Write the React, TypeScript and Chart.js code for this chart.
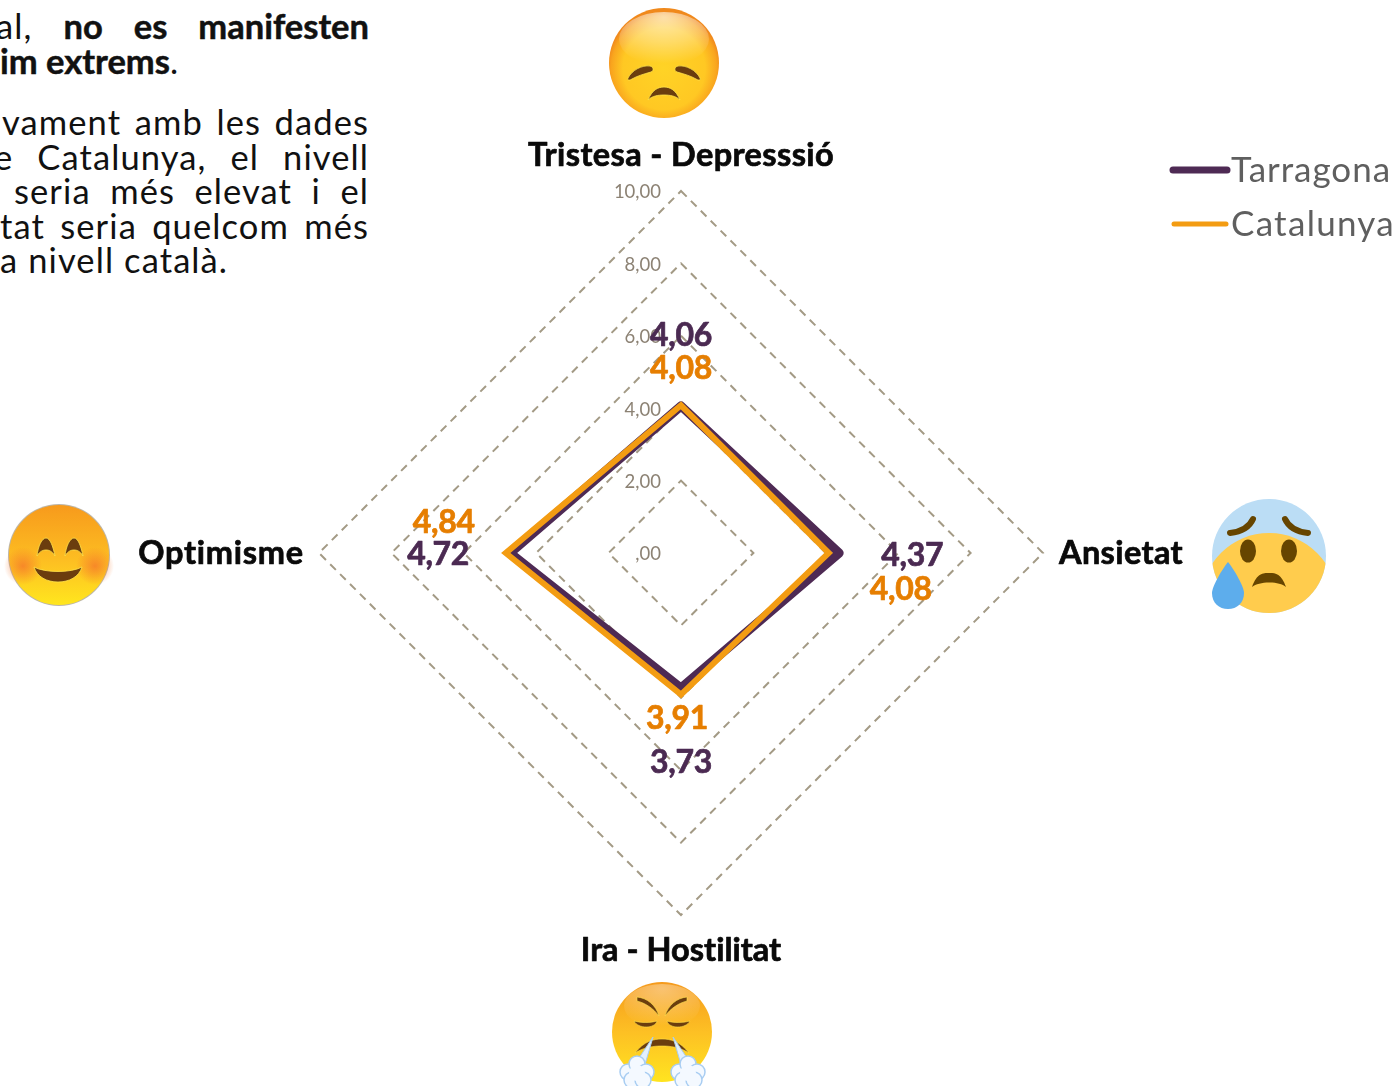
import React, { useEffect, useRef } from "react";
import { Chart, registerables } from "chart.js";

Chart.register(...registerables);

const categories = ["Tristesa - Depresssió", "Ansietat", "Ira - Hostilitat", "Optimisme"];
const tarragona = [4.06, 4.37, 3.73, 4.72];
const catalunya = [4.08, 4.08, 3.91, 4.84];
const seriesNames = ["Tarragona", "Catalunya"];

const PURPLE = "#4E2A54";
const ORANGE = "#F39C12";
const FONT = "Lato, sans-serif";

// style tables: where each label sits relative to its anchor on the scale
const categoryOffsets = [[0, -35, 306], [78, 1, 124], [0, 36, 201], [-98, 1, 166]];
const tarragonaLabelOffsets = [[0, -70], [73, 3], [0, 75], [-72, 2]];
const catalunyaLabelOffsets = [[0, -37], [72, 37], [-4, 24], [-62, -30]];

const paragraphLines: { y: number; parts: [string, boolean][]; justify: boolean; left: number }[] = [
  { y: 26, parts: [["al,", false], [" no es manifesten", true]], justify: true, left: -4 },
  { y: 61, parts: [["im extrems", true], [".", false]], justify: false, left: 0 },
  { y: 122, parts: [["vament amb les dades", false]], justify: true, left: 2 },
  { y: 157, parts: [["e Catalunya, el nivell", false]], justify: true, left: -6 },
  { y: 191, parts: [["seria més elevat i el", false]], justify: true, left: 14 },
  { y: 226, parts: [["tat seria quelcom més", false]], justify: true, left: 0 },
  { y: 260, parts: [["a nivell català.", false]], justify: false, left: 0 },
];

function fitText(ctx: CanvasRenderingContext2D, text: string, x: number, y: number, width: number, heavy = 0) {
  (ctx as any).letterSpacing = "0px";
  const w = ctx.measureText(text).width;
  (ctx as any).letterSpacing = `${(width - w) / text.length}px`;
  ctx.fillText(text, x, y);
  if (heavy > 0) {
    ctx.lineWidth = heavy;
    ctx.lineJoin = "round";
    ctx.strokeStyle = ctx.fillStyle as string;
    ctx.strokeText(text, x, y);
  }
  (ctx as any).letterSpacing = "0px";
}

const fmt = (v: number) => (v === 0 ? ",00" : v.toFixed(2).replace(".", ","));

const radarExtras = {
  id: "radarExtras",
  beforeDatasetsDraw(chart: any) {
    const { ctx, scales } = chart;
    const r = scales.r;
    ctx.save();
    ctx.font = `18.5px ${FONT}`;
    ctx.fillStyle = "#8C8274";
    ctx.textAlign = "right";
    ctx.textBaseline = "middle";
    r.ticks.forEach((t: any) => {
      const y = r.yCenter - r.getDistanceFromCenterForValue(t.value) + 1.5;
      ctx.fillText(fmt(t.value), r.xCenter - 20, y);
    });
    ctx.restore();
  },
  afterDraw(chart: any) {
    const { ctx, scales, data } = chart;
    const r = scales.r;
    ctx.save();
    ctx.textBaseline = "middle";
    ctx.textAlign = "center";
    // category labels
    ctx.font = `bold 32.5px ${FONT}`;
    ctx.fillStyle = "#0A0A0A";
    data.labels.forEach((lab: string, i: number) => {
      const p = r.getPointPositionForValue(i, r.max);
      const [dx, dy, w] = categoryOffsets[i];
      fitText(ctx, lab, p.x + dx, p.y + dy, w, 0.7);
    });
    // value labels
    ctx.font = `bold 32px ${FONT}`;
    const draw = (vals: number[], offs: number[][], col: string) => {
      ctx.fillStyle = col;
      vals.forEach((v, i) => {
        const p = r.getPointPositionForValue(i, v);
        fitText(ctx, fmt(v), p.x + offs[i][0], p.y + offs[i][1], 62, 0.7);
      });
    };
    draw(data.datasets[0].data, tarragonaLabelOffsets, "#4B2A52");
    draw(data.datasets[1].data, catalunyaLabelOffsets, "#E67E00");
    // legend
    const rows = [
      { y: 170, x0: 1173, x1: 1227, lw: 7, col: PURPLE, tw: 160 },
      { y: 224, x0: 1174, x1: 1226, lw: 5, col: ORANGE, tw: 164 },
    ];
    ctx.textAlign = "left";
    ctx.font = `35px ${FONT}`;
    rows.forEach((row, i) => {
      ctx.strokeStyle = row.col;
      ctx.lineWidth = row.lw;
      ctx.lineCap = "round";
      ctx.beginPath();
      ctx.moveTo(row.x0, row.y);
      ctx.lineTo(row.x1, row.y);
      ctx.stroke();
      ctx.fillStyle = "#5F5F5F";
      fitText(ctx, data.datasets[i].label, 1231, row.y + 1, row.tw);
    });
    ctx.restore();
  },
};

function Pensive() {
  return (
    <g transform="translate(664 63)">
      <defs>
        <radialGradient id="pf" cx="50%" cy="55%" r="52%">
          <stop offset="0%" stopColor="#FFD326" />
          <stop offset="72%" stopColor="#FFC823" />
          <stop offset="92%" stopColor="#F9A51E" />
          <stop offset="100%" stopColor="#F0891C" />
        </radialGradient>
        <radialGradient id="hl2" cx="50%" cy="10%" r="85%">
          <stop offset="0%" stopColor="#FFF" stopOpacity="0.62" />
          <stop offset="55%" stopColor="#FFF" stopOpacity="0.3" />
          <stop offset="100%" stopColor="#FFF" stopOpacity="0" />
        </radialGradient>
      </defs>
      <circle r="55" fill="url(#pf)" />
      <ellipse cy="-24" rx="45" ry="27" fill="url(#hl2)" />
      <g fill="#6B3D0E" stroke="#FFE34D" strokeWidth="0.8">
        <path d="M-36 15 C-32 7 -22 2 -14 3 C-10 4 -10 8 -13 9 C-20 11 -27 13 -32 16 C-35 18 -37 17 -36 15Z" />
        <path d="M36 15 C32 7 22 2 14 3 C10 4 10 8 13 9 C20 11 27 13 32 16 C35 18 37 17 36 15Z" />
        <path d="M-16 37 C-12 27 -6 24 0 24 C6 24 12 27 16 37 C12 33 6 32 0 32 C-6 32 -12 33 -16 37Z" />
      </g>
    </g>
  );
}

function Anxious() {
  return (
    <g transform="translate(1269 556)">
      <defs>
        <clipPath id="ac"><circle r="57" /></clipPath>
      </defs>
      <circle r="57" fill="#BBDDF5" />
      <g clipPath="url(#ac)"><circle cy="45" r="68" fill="#FFCC4D" /></g>
      <ellipse cx="-21" cy="-5" rx="8" ry="11.5" fill="#664500" />
      <ellipse cx="20" cy="-5" rx="8" ry="11.5" fill="#664500" />
      <g fill="none" stroke="#664500" strokeWidth="6" strokeLinecap="round">
        <path d="M-39 -23 C-30 -24 -20 -28 -16 -37" />
        <path d="M39 -23 C30 -24 20 -28 16 -37" />
      </g>
      <path d="M-17 31 C-12 17 -6 17 0 17 C6 17 12 17 17 31 C10 25 -10 25 -17 31Z" fill="#664500" />
      <path d="M-41 6 C-36 12 -25 30 -25 37 C-25 47 -32 53 -41 53 C-50 53 -57 47 -57 37 C-57 30 -46 12 -41 6Z" fill="#5DADEC" />
    </g>
  );
}

function Smile() {
  return (
    <g transform="translate(59 555)">
      <defs>
        <linearGradient id="sf" x1="0" y1="0" x2="0" y2="1">
          <stop offset="0%" stopColor="#F79A1C" />
          <stop offset="55%" stopColor="#FDBE22" />
          <stop offset="100%" stopColor="#FFE61E" />
        </linearGradient>
        <radialGradient id="ch">
          <stop offset="0%" stopColor="#F5752A" stopOpacity="0.75" />
          <stop offset="100%" stopColor="#F5752A" stopOpacity="0" />
        </radialGradient>
      </defs>
      <circle r="51" fill="#BDB6A8" />
      <circle r="50" fill="url(#sf)" />
      <circle cx="-36" cy="11" r="19" fill="url(#ch)" />
      <circle cx="36" cy="11" r="19" fill="url(#ch)" />
      <g fill="#6B3D0E" stroke="#FFE34D" strokeWidth="0.8">
        <path d="M-22 1 C-21 -9 -17 -17 -13 -17 C-9 -17 -6 -9 -4 1 C-7 -4 -10 -5 -13 -5 C-16 -5 -19 -4 -22 1Z" />
        <path d="M6 1 C7 -9 11 -17 15 -17 C19 -17 22 -9 24 1 C21 -4 18 -5 15 -5 C12 -5 9 -4 6 1Z" />
        <path d="M-25 12 C-14 18 12 18 23 12 C20 22 10 27 -1 27 C-12 27 -22 22 -25 12Z" />
      </g>
    </g>
  );
}

function Cloud({ x, y }: { x: number; y: number }) {
  return (
    <g transform={`translate(${x} ${y})`} fill="#F4F9FF" stroke="#A8CDF2" strokeWidth="1.5">
      <circle cx="-9" cy="-1" r="8" />
      <circle cx="0" cy="-9" r="8" />
      <circle cx="9" cy="-1" r="8" />
      <circle cx="-5" cy="7" r="8" />
      <circle cx="6" cy="7" r="8" />
      <circle r="8" stroke="none" />
    </g>
  );
}

function Angry() {
  return (
    <g transform="translate(662 1032)">
      <defs>
        <linearGradient id="af" x1="0" y1="0" x2="0" y2="1">
          <stop offset="0%" stopColor="#F59A1D" />
          <stop offset="50%" stopColor="#FDC024" />
          <stop offset="100%" stopColor="#FFE420" />
        </linearGradient>
      </defs>
      <circle r="50" fill="url(#af)" />
      <ellipse cy="-26" rx="38" ry="22" fill="url(#hl2)" opacity="0.6" />
      <g fill="#6B3D0E" stroke="#FFE34D" strokeWidth="0.6">
        <path d="M-25 -35 C-15 -34 -6 -27 -3 -16 C-9 -24 -17 -29 -25 -31Z" />
        <path d="M25 -35 C15 -34 6 -27 3 -16 C9 -24 17 -29 25 -31Z" />
        <path d="M-28 -11 C-20 -9 -12 -9 -5 -11 C-7 -3 -24 -3 -28 -11Z" />
        <path d="M28 -11 C20 -9 12 -9 5 -11 C7 -3 24 -3 28 -11Z" />
        <path d="M-27 21 C-18 9 -8 7 0 7 C8 7 18 9 27 21 C18 15 8 14 0 14 C-8 14 -18 15 -27 21Z" />
      </g>
      <path d="M-9 5 L-27 32 L-18 36Z" fill="#E3F0FC" stroke="#A8CDF2" strokeWidth="1" />
      <path d="M11 5 L29 32 L20 36Z" fill="#E3F0FC" stroke="#A8CDF2" strokeWidth="1" />
      <Cloud x={-25} y={41} />
      <Cloud x={26} y={41} />
    </g>
  );
}

export default function App() {
  const ref = useRef<HTMLCanvasElement>(null);
  useEffect(() => {
    const chart = new Chart(ref.current!, {
      type: "radar",
      data: {
        labels: categories,
        datasets: [
          {
            label: seriesNames[0],
            data: tarragona,
            borderColor: PURPLE,
            borderWidth: 9,
            borderJoinStyle: "round",
            backgroundColor: "transparent",
            pointRadius: 0,
            order: 2,
          },
          {
            label: seriesNames[1],
            data: catalunya,
            borderColor: ORANGE,
            borderWidth: 6,
            borderJoinStyle: "miter",
            backgroundColor: "transparent",
            pointRadius: 0,
            order: 1,
          },
        ],
      } as any,
      options: {
        responsive: false,
        animation: false,
        layout: { padding: { left: 319, right: 355, top: 191, bottom: 171 } },
        plugins: { legend: { display: false }, tooltip: { enabled: false } },
        scales: {
          r: {
            min: 0,
            max: 10,
            ticks: { stepSize: 2, display: false },
            pointLabels: { display: false },
            angleLines: { display: false },
            grid: { color: "#A39A85", lineWidth: 2 },
            border: { dash: [8, 6], color: "#A39A85" },
          },
        },
      } as any,
      plugins: [radarExtras],
    });
    return () => chart.destroy();
  }, []);

  return (
    <div style={{ position: "absolute", left: 0, top: 0, width: 1398, height: 1086, overflow: "hidden", background: "#fff" }}>
      <svg width={1398} height={1086} style={{ position: "absolute", left: 0, top: 0 }}>
        <Pensive />
        <Anxious />
        <Smile />
        <Angry />
      </svg>
      <div style={{ position: "absolute", left: 0, top: 0, width: 369, height: 300, overflow: "hidden" }}>
        {paragraphLines.map((l, i) => (
          <div
            key={i}
            style={{
              position: "absolute",
              left: l.left,
              top: l.y - 20,
              width: l.justify ? 369 - l.left : undefined,
              height: 40,
              font: `34.5px/40px ${FONT}`,
              color: "#111",
              whiteSpace: l.justify ? "normal" : "nowrap",
              textAlign: "justify",
              textAlignLast: l.justify ? "justify" : "left",
            }}
          >
            {l.parts.map(([t, b], j) => (
              <span
                key={j}
                style={b ? { fontWeight: 700, WebkitTextStroke: "0.5px #111" } : { fontWeight: 400, letterSpacing: "1.1px" }}
              >
                {t}
              </span>
            ))}
          </div>
        ))}
      </div>
      <canvas ref={ref} width={1398} height={1086} style={{ position: "absolute", left: 0, top: 0, display: "block" }} />
    </div>
  );
}
